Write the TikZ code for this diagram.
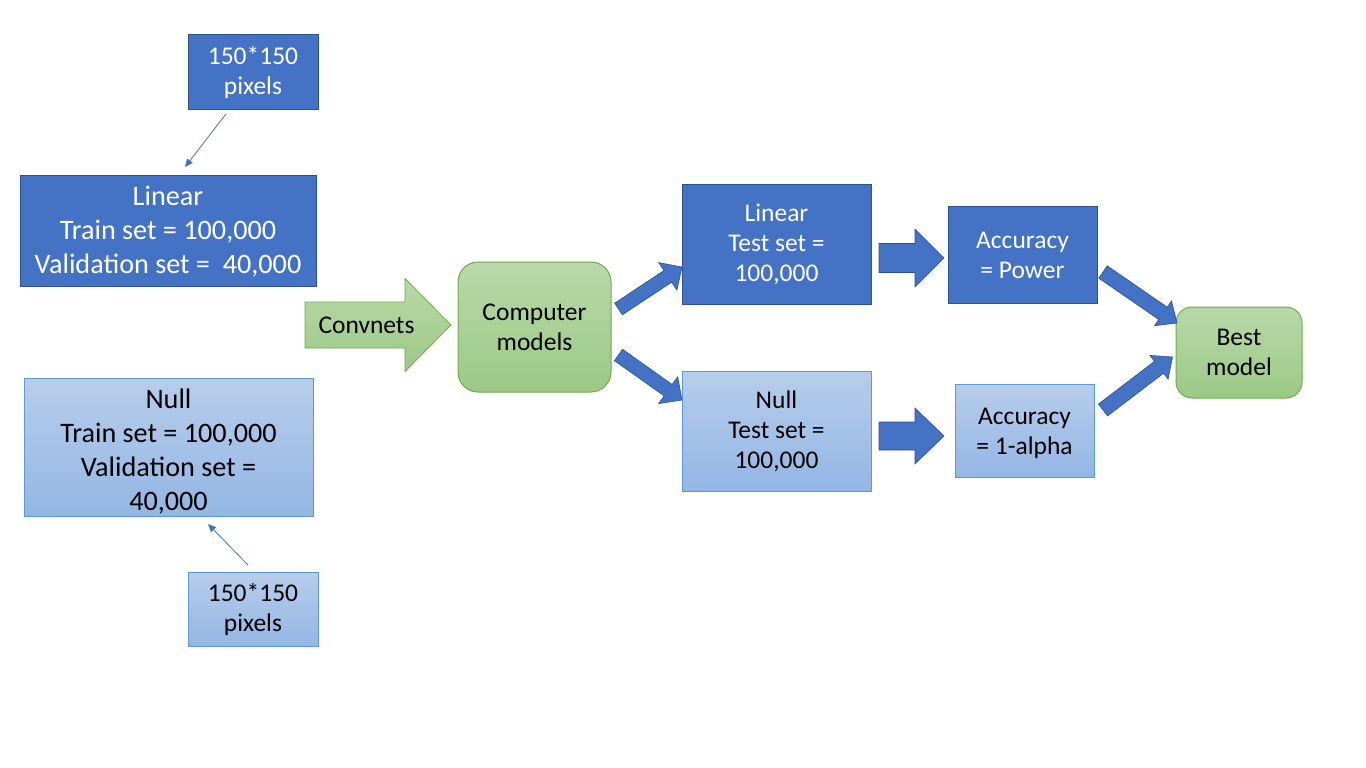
\documentclass[tikz,border=0pt]{standalone}
\usepackage{fontspec}
\setmainfont{Carlito}
\usetikzlibrary{calc,arrows.meta}
\definecolor{dkblue}{HTML}{4472C4}
\definecolor{dkborder}{HTML}{2F528F}
\definecolor{ltblueT}{RGB}{183,205,235}
\definecolor{ltblueB}{RGB}{147,182,228}
\definecolor{ltborder}{HTML}{5B9BD5}
\definecolor{grT}{RGB}{184,216,170}
\definecolor{grB}{RGB}{156,201,133}
\definecolor{grborder}{HTML}{70AD47}
\newcommand{\tstrut}[1]{\rule{0pt}{#1}}
\tikzset{
  darkbox/.style={draw=dkborder,fill=dkblue,text=white,line width=1pt,inner sep=0pt,align=center,font=\fontsize{25.5}{30}\selectfont},
  lightbox/.style={draw=ltborder,top color=ltblueT,bottom color=ltblueB,text=black,line width=1pt,inner sep=0pt,align=center,font=\fontsize{25.5}{30}\selectfont},
  greenbox/.style={draw=grborder,top color=grT,bottom color=grB,text=black,line width=1pt,inner sep=0pt,align=center,font=\fontsize{25.5}{30}\selectfont},
  bigfont/.style={font=\fontsize{28.2}{34}\selectfont},
  thinarrow/.style={draw=dkblue,line width=0.8pt,-{Triangle[length=8pt,width=7pt]}},
  blockarrow/.style={fill=dkblue,draw=dkborder,line width=0.6pt,line join=miter},
  greenarrow/.style={top color=grT,bottom color=grB,draw=grborder,line width=0.8pt,line join=miter}
}
% #1 tail, #2 tip, #3 half shaft, #4 half head, #5 head length, #6 style
\newcommand{\blkarrow}[6]{%
  \coordinate (ba-c) at ($(#2)!#5!(#1)$);
  \path[#6] ($(#1)!#3!90:(#2)$) -- ($(ba-c)!#3!-90:(#1)$) -- ($(ba-c)!#4!-90:(#1)$) -- (#2) -- ($(ba-c)!#4!90:(#1)$) -- ($(ba-c)!#3!90:(#1)$) -- ($(#1)!#3!-90:(#2)$) -- cycle;}
\begin{document}
\begin{tikzpicture}[x=1pt,y=-1pt]
\useasboundingbox[fill=white] (0,0) rectangle (1366,768);

% left side
\node[darkbox,minimum width=130pt,minimum height=74pt] (pix1) at (253,72) {\tstrut{20pt}150*150\\pixels};
\node[darkbox,bigfont,minimum width=296pt,minimum height=111pt] (lin) at (168,230.5) {\tstrut{22pt}Linear\\Train set = 100,000\\Validation set = \ 40,000};
\node[lightbox,bigfont,minimum width=289pt,minimum height=138pt] (null) at (168.5,447) {\tstrut{28pt}Null\\Train set = 100,000\\Validation set =\\40,000};
\node[lightbox,minimum width=130pt,minimum height=74pt] (pix2) at (253,609) {\tstrut{20pt}150*150\\pixels};

\coordinate (t1s) at (226,114);
\coordinate (t1e) at (185,167);
\coordinate (t2s) at (248,565);
\coordinate (t2e) at (208,524);
\draw[thinarrow] (t1s) -- (t1e);
\draw[thinarrow] (t2s) -- (t2e);

% middle
\node[greenbox,rounded corners=20pt,minimum width=153pt,minimum height=130pt] (cm) at (534.5,327) {Computer\\models};
\coordinate (cvs) at (305,325);
\coordinate (cve) at (451,325);
\blkarrow{cvs}{cve}{23pt}{46.5pt}{46pt}{greenarrow}
\node[font=\fontsize{25.5}{30}\selectfont] (cvl) at (366.5,325) {Convnets};

\node[darkbox,minimum width=189pt,minimum height=120pt] (lt) at (776.5,244) {Linear\\Test set =\\100,000};
\node[lightbox,minimum width=189pt,minimum height=120pt] (nt) at (776.5,431) {Null\\Test set =\\100,000};

\coordinate (a1s) at (618.5,309);
\coordinate (a1e) at (682,267);
\coordinate (a2s) at (618.5,355);
\coordinate (a2e) at (682,400);
\blkarrow{a1s}{a1e}{7pt}{16.5pt}{17pt}{blockarrow}
\blkarrow{a2s}{a2e}{7pt}{16.5pt}{17pt}{blockarrow}

% right
\node[darkbox,minimum width=149pt,minimum height=97pt] (ap) at (1022.5,254.5) {\tstrut{19pt}Accuracy\\= Power};
\node[lightbox,minimum width=139pt,minimum height=93pt] (aa) at (1024.5,430.5) {\tstrut{23pt}Accuracy\\= 1-alpha};

\coordinate (a3s) at (879,258);
\coordinate (a3e) at (944,258);
\coordinate (a4s) at (879,436);
\coordinate (a4e) at (944,436);
\blkarrow{a3s}{a3e}{14.5pt}{29pt}{29pt}{blockarrow}
\blkarrow{a4s}{a4e}{14pt}{28pt}{29pt}{blockarrow}

\node[greenbox,rounded corners=16pt,minimum width=126pt,minimum height=91pt] (best) at (1239,352.5) {Best\\model};

\coordinate (a5s) at (1103,272);
\coordinate (a5e) at (1177,323);
\coordinate (a6s) at (1103,410);
\coordinate (a6e) at (1172.5,357);
\blkarrow{a5s}{a5e}{7.5pt}{15pt}{17pt}{blockarrow}
\blkarrow{a6s}{a6e}{7.5pt}{15pt}{17pt}{blockarrow}
\end{tikzpicture}
\end{document}
